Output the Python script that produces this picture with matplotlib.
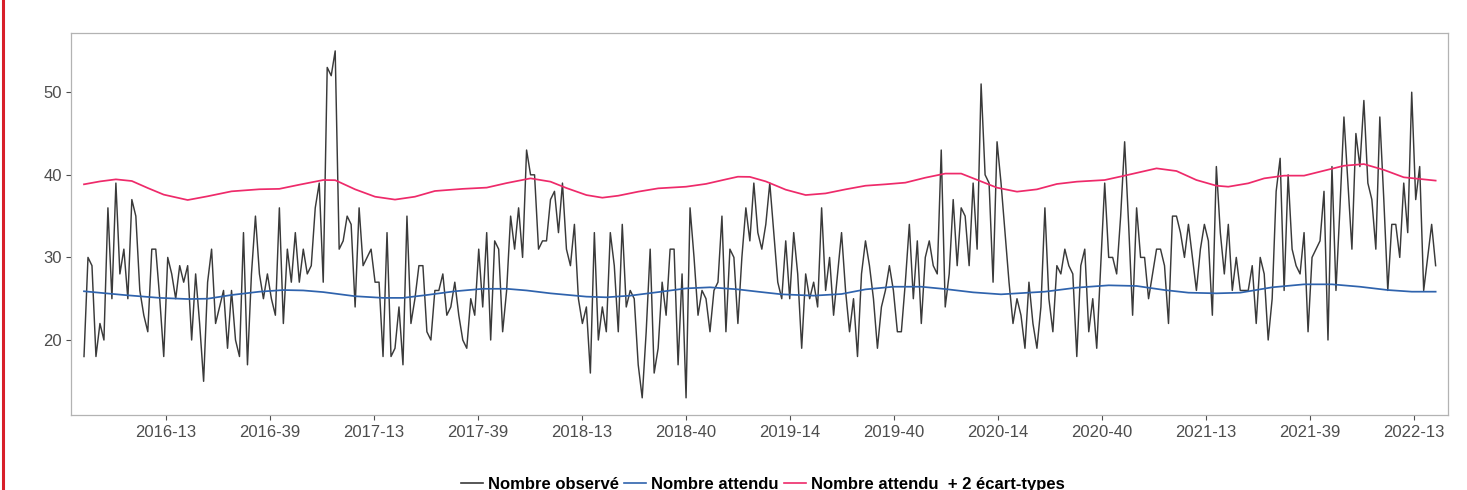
import matplotlib
matplotlib.use("Agg")
import matplotlib.pyplot as plt
from matplotlib.lines import Line2D

# ---------------- data ----------------
observed = [
    18, 30, 29, 18, 22, 20, 36, 25, 39, 28, 31, 25, 37, 35, 26, 23, 21, 31, 31, 25,
    18, 30, 28, 25, 29, 27, 29, 20, 28, 22, 15, 27, 31, 22, 24, 26, 19, 26, 20, 18,
    33, 17, 28, 35, 28, 25, 28, 25, 23, 36, 22, 31, 27, 33, 27,
    31, 28, 29, 36, 39, 27, 53, 52, 55, 31, 32, 35, 34, 24, 36, 29, 30, 31, 27, 27,
    18, 33, 18, 19, 24, 17, 35, 22, 25, 29, 29, 21, 20, 26, 26, 28, 23, 24, 27, 23,
    20, 19, 25, 23, 31, 24, 33, 20, 32, 31, 21, 26, 35, 31, 36, 30, 43,
    40, 40, 31, 32, 32, 37, 38, 33, 39, 31, 29, 34, 25, 22, 24, 16, 33, 20, 24, 21,
    33, 29, 21, 34, 24, 26, 25, 17, 13, 21, 31, 16, 19, 27, 23, 31, 31, 17, 28, 13,
    36, 30, 23, 26, 25, 21, 26, 27, 35, 21, 31, 30, 22, 30, 36, 32, 39, 33,
    31, 34, 39, 33, 27, 25, 32, 25, 33, 28, 19, 28, 25, 27, 24, 36, 26, 30, 23, 28,
    33, 26, 21, 25, 18, 28, 32, 29, 25, 19, 24, 26, 29, 26, 21, 21, 27, 34, 25, 32,
    22, 30, 32, 29, 28, 43, 24, 28, 37, 29, 36, 35, 29, 39, 31, 51, 40,
    39, 27, 44, 39, 33, 27, 22, 25, 23, 19, 27, 22, 19, 24, 36, 25, 21, 29, 28, 31,
    29, 28, 18, 29, 31, 21, 25, 19, 29, 39, 30, 30, 28, 35, 44, 34, 23, 36, 30, 30,
    25, 28, 31, 31, 29, 22, 35, 35, 33, 30, 34, 30, 26, 31, 34, 32, 23, 41,
    33, 28, 34, 26, 30, 26, 26, 26, 29, 22, 30, 28, 20, 25, 38, 42, 26, 40, 31, 29,
    28, 33, 21, 30, 31, 32, 38, 20, 41, 26, 36, 47, 39, 31, 45, 41, 49, 39, 37, 31,
    47, 37, 26, 34, 34, 30, 39, 33, 50, 37, 41, 26, 30, 34, 29,
]

expected_week = [0, 10, 19, 26, 31, 37, 44, 50, 55, 60, 68, 75, 80, 86, 93, 100, 106,
                 111, 117, 126, 131, 137, 144, 151, 157, 164, 169, 175, 183, 190, 196,
                 203, 210, 216, 223, 230, 241, 249, 257, 264, 271, 277, 284, 290, 298,
                 306, 313, 320, 327, 333, 339]
expected_vals = [25.9, 25.45, 25.1, 24.96, 25.0, 25.45, 25.85, 26.05, 26.0, 25.8, 25.3,
                 25.1, 25.1, 25.45, 25.9, 26.2, 26.2, 26.0, 25.65, 25.25, 25.17, 25.37,
                 25.8, 26.25, 26.38, 26.13, 25.85, 25.53, 25.37, 25.57, 26.13, 26.45,
                 26.45, 26.17, 25.77, 25.53, 25.85, 26.34, 26.62, 26.54, 26.05, 25.73,
                 25.65, 25.73, 26.38, 26.74, 26.74, 26.45, 26.05, 25.85, 25.85]

upper_week = [0, 4, 8, 12, 16, 20, 26, 31, 37, 44, 49, 54, 60, 63, 68, 73, 78, 83, 88,
              95, 101, 106, 112, 117, 121, 126, 130, 134, 139, 144, 151, 156, 161, 164,
              167, 171, 176, 181, 186, 191, 196, 201, 206, 211, 216, 220, 225, 229, 234,
              239, 244, 249, 256, 261, 269, 274, 279, 284, 287, 292, 296, 301, 306, 311,
              316, 321, 326, 331, 339]
upper_vals = [38.85, 39.2, 39.45, 39.25, 38.4, 37.6, 36.95, 37.4, 38.0, 38.25, 38.3,
              38.8, 39.37, 39.35, 38.24, 37.35, 37.0, 37.35, 38.04, 38.3, 38.45, 39.0,
              39.57, 39.17, 38.4, 37.55, 37.23, 37.47, 37.96, 38.36, 38.56, 38.9, 39.45,
              39.77, 39.75, 39.2, 38.2, 37.55, 37.75, 38.24, 38.68, 38.85, 39.05, 39.65,
              40.15, 40.15, 39.2, 38.44, 37.96, 38.24, 38.89, 39.17, 39.37, 39.9, 40.78,
              40.46, 39.37, 38.68, 38.56, 38.97, 39.57, 39.9, 39.9, 40.5, 41.1, 41.3,
              40.6, 39.7, 39.3]

tick_labels = ["2016-13", "2016-39", "2017-13", "2017-39", "2018-13", "2018-40",
               "2019-14", "2019-40", "2020-14", "2020-40", "2021-13", "2021-39", "2022-13"]
tick_positions = [20.6, 46.7, 72.7, 98.8, 124.9, 151.0, 177.1, 203.2, 229.2, 255.3,
                  281.4, 307.5, 333.6]

labels = ["Nombre observé", "Nombre attendu", "Nombre attendu  + 2 écart-types"]
colors = ["#3a3a3a", "#2f63ad", "#ee2a6a"]

# ---------------- figure ----------------
plt.rcParams["font.family"] = ["Liberation Sans", "DejaVu Sans"]
fig = plt.figure(figsize=(14.67, 4.90), dpi=100)
ax = fig.add_axes([71 / 1467, 1 - 415 / 490, (1448 - 71) / 1467, (415 - 33) / 490])

weeks = list(range(len(observed)))
ax.plot(weeks, observed, color=colors[0], lw=1.05, label=labels[0])
ax.plot(expected_week, expected_vals, color=colors[1], lw=1.25, label=labels[1])
ax.plot(upper_week, upper_vals, color=colors[2], lw=1.25, label=labels[2])

ax.set_xlim(-3.26, 342.1)
ax.set_ylim(10.92, 57.17)
ax.set_yticks([20, 30, 40, 50])
ax.set_xticks(tick_positions)
ax.set_xticklabels(tick_labels)

for s in ax.spines.values():
    s.set_color("#b3b3b3")
    s.set_linewidth(0.9)
ax.tick_params(axis="both", colors="#4d4d4d", labelsize=12, length=3.5, width=0.8,
               direction="out")
ax.tick_params(axis="x", pad=4)
ax.tick_params(axis="y", pad=3)
for lbl in ax.get_xticklabels() + ax.get_yticklabels():
    lbl.set_color("#4d4d4d")

handles = [Line2D([], [], color=c, lw=1.2) for c in colors]
leg = fig.legend(handles, labels, loc="center", bbox_to_anchor=(0.52, 0.012), ncol=3,
                 frameon=False, handlelength=1.3, handletextpad=0.3, columnspacing=0.35,
                 prop={"weight": "bold", "size": 12})
for t in leg.get_texts():
    t.set_color("black")

# red border line at the very left of the screenshot
fig.add_artist(Line2D([2.5 / 1467, 2.5 / 1467], [0, 1], transform=fig.transFigure,
                      color="#d81f2a", lw=2.2))

fig.savefig("out.png", dpi=100)
